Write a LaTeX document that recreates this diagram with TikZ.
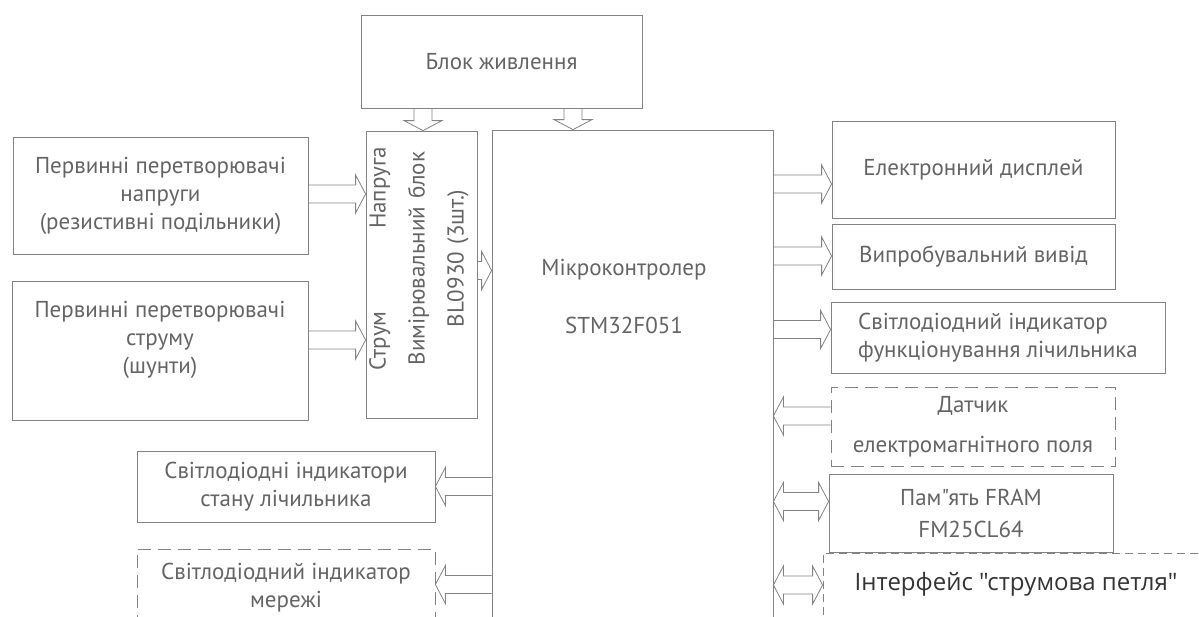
\documentclass[tikz,border=0pt]{standalone}
\usepackage{fontspec}
\setmainfont{PT Sans}[Ligatures=TeXOff]
\newfontfamily\ifacefont{Open Sans}[Ligatures=TeXOff]
\usepackage{xcolor}
\usetikzlibrary{calc}
\definecolor{linegray}{RGB}{130,130,130}
\definecolor{textgray}{RGB}{100,100,100}

% hollow double-line arrow, tip at #2
\newcommand{\fatarrow}[2]{%
  \coordinate (fs) at (#1);
  \coordinate (fe) at (#2);
  \coordinate (fb) at ($(fe)!10pt!(fs)$);
  \draw[flow] ($(fs)!9pt!90:(fe)$) -- ($(fb)!9pt!-90:(fs)$) -- ($(fb)!19pt!-90:(fs)$) -- (fe)
    -- ($(fb)!19pt!90:(fs)$) -- ($(fb)!9pt!90:(fs)$) -- ($(fs)!9pt!-90:(fe)$);
}
% same, with a tip at both ends
\newcommand{\fatarrowboth}[2]{%
  \coordinate (fs) at (#1);
  \coordinate (fe) at (#2);
  \coordinate (fb) at ($(fe)!10pt!(fs)$);
  \coordinate (fa) at ($(fs)!10pt!(fe)$);
  \draw[flow] ($(fa)!9pt!90:(fe)$) -- ($(fb)!9pt!-90:(fs)$) -- ($(fb)!19pt!-90:(fs)$) -- (fe)
    -- ($(fb)!19pt!90:(fs)$) -- ($(fb)!9pt!90:(fs)$) -- ($(fa)!9pt!-90:(fe)$)
    -- ($(fa)!19pt!-90:(fe)$) -- (fs) -- ($(fa)!19pt!90:(fe)$) -- cycle;
}

\begin{document}
\begin{tikzpicture}[x=1pt, y=-1pt,
  every node/.style={font=\fontsize{23}{28}\selectfont, text=textgray},
  box/.style={draw=linegray, line width=0.8pt, align=center, inner sep=0pt},
  dashbox/.style={box, dash pattern=on 13pt off 7pt},
  flow/.style={draw=linegray, line width=0.8pt, line join=miter}]
  \useasboundingbox (0,0) rectangle (1199,616);
  \clip (0,0) rectangle (1199,616);

  % supply and measurement
  \node[box, minimum width=281pt, minimum height=93pt] (pwr) at (501.5,61.5) {Блок живлення};
  \node[box, minimum width=111pt, minimum height=287pt] (meas) at (421.5,274.5) {};
  \node[rotate=90, text width=223pt, align=center, font=\fontsize{23}{39}\selectfont] (meastxt) at (419,258.5)
    {Струм\hfill Напруга\\Вимірювальний блок\\BL0930 (3шт.)};
  \node[box, minimum width=281pt, minimum height=500pt] (mcu) at (632.5,380) {};
  \node[align=center, font=\fontsize{23}{30}\selectfont] (mcutxt) at (624,296) {Мікроконтролер\\[28pt]STM32F051};

  % primary transducers
  \node[box, minimum width=295pt, minimum height=117pt] (volt) at (160.5,196)
    {Первинні перетворювачі\\напруги\\(резистивні подільники)};
  \node[box, minimum width=296pt, minimum height=139pt] (curr) at (160,351)
    {Первинні перетворювачі\\струму\\(шунти)\\\mbox{}};

  % outputs on the right
  \node[box, minimum width=283pt, minimum height=97pt] (disp) at (973.5,169.5) {Електронний дисплей};
  \node[box, minimum width=283pt, minimum height=65pt] (test) at (973.5,256.5) {Випробувальний вивід};
  \node[box, align=left, minimum width=334pt, minimum height=71pt] (ledf) at (998,337.5)
    {Світлодіодний індикатор\\функціонування лічильника};
  \node[dashbox, minimum width=284pt, minimum height=79pt] (sens) at (973,426.5)
    {Датчик\\[12pt]електромагнітного поля};
  \node[box, minimum width=284pt, minimum height=78pt] (fram) at (971,513)
    {Пам"ять FRAM\\[4pt]FM25CL64};
  \node[dashbox, dash pattern=on 8pt off 5pt, minimum width=417pt, minimum height=87pt] (iface) at (1031.5,596.5) {};
  \node[font=\ifacefont\fontsize{24}{28}\selectfont, text=black!80] (ifacetxt) at (1016,584)
    {Інтерфейс "струмова петля"};

  % indicators on the left
  \node[box, minimum width=298pt, minimum height=71pt] (leds) at (286,486.5)
    {Світлодіодні індикатори\\стану лічильника};
  \node[dashbox, minimum width=298pt, minimum height=78pt] (ledn) at (286,588)
    {Світлодіодний індикатор\\мережі};

  % connections
  \fatarrow{pwr.south -| 423,0}{meas.north -| 423,0}
  \fatarrow{pwr.south -| 573,0}{mcu.north -| 573,0}
  \fatarrow{volt.east |- 0,194}{meas.west |- 0,194}
  \fatarrow{curr.east |- 0,340}{meas.west |- 0,340}
  \fatarrow{meas.east |- 0,270.5}{mcu.west |- 0,270.5}
  \fatarrow{mcu.east |- 0,184}{disp.west |- 0,184}
  \fatarrow{mcu.east |- 0,256}{test.west |- 0,256}
  \fatarrow{mcu.east |- 0,329.5}{ledf.west |- 0,329.5}
  \fatarrow{sens.west |- 0,416}{mcu.east |- 0,416}
  \fatarrowboth{mcu.east |- 0,501.5}{fram.west |- 0,501.5}
  \fatarrowboth{mcu.east |- 0,585}{iface.west |- 0,585}
  \fatarrow{mcu.west |- 0,486.5}{leds.east |- 0,486.5}
  \fatarrow{mcu.west |- 0,584.5}{ledn.east |- 0,584.5}
\end{tikzpicture}
\end{document}
